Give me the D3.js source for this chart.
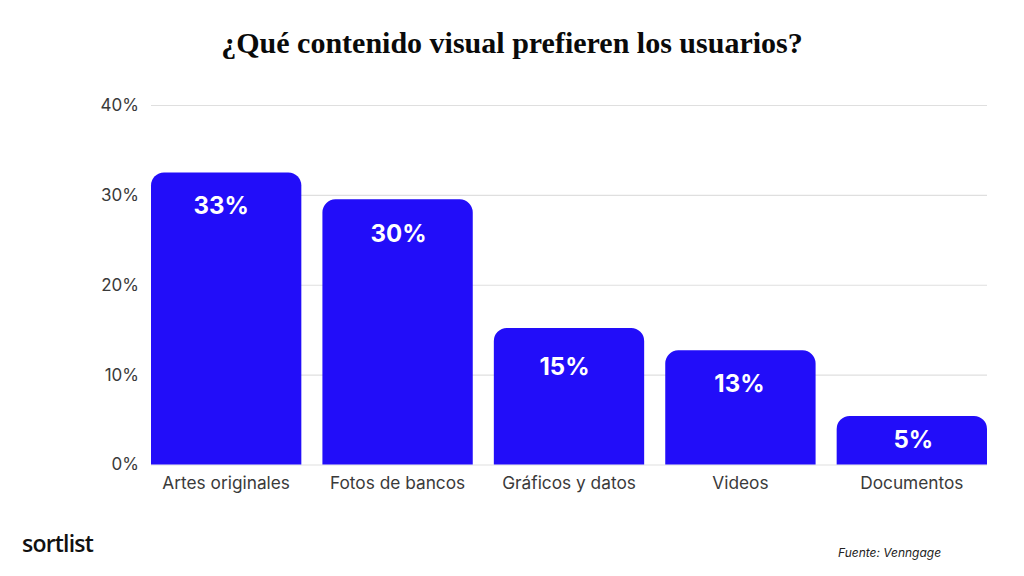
<!DOCTYPE html>
<html><head><meta charset="utf-8">
<script src="https://cdn.jsdelivr.net/npm/d3@7/dist/d3.min.js"></script>
<style>html,body{margin:0;padding:0;background:#fff}svg{display:block}</style>
</head><body><svg id="c" width="1024" height="576"></svg>
<script>
const categories = ["Artes originales","Fotos de bancos","Gráficos y datos","Videos","Documentos"];
const values = [32.5,29.5,15.2,12.7,5.4];
const valueLabels = ["33%","30%","15%","13%","5%"];
const ticks = [0,10,20,30,40];
const title = "¿Qué contenido visual prefieren los usuarios?";
const source = "Fuente: Venngage";
const brand = "sortlist";

const svg = d3.select("#c");
const x = d3.scaleBand().domain(categories).range([151,987]).paddingInner(0.123).paddingOuter(0);
const y = d3.scaleLinear().domain([0,40]).range([464.5,105]);
// hand placement of the labels inside the bars, relative to each bar's top centre
const labelDx = [-5,1,-4.5,-1,1.5];
const labelDy = [41.5,42.5,47.5,41.5,32.5];

svg.append("text").attr("x",512).attr("y",53).attr("text-anchor","middle")
  .attr("font-family","'Liberation Serif',serif").attr("font-weight",700).attr("font-size",30)
  .attr("fill","#0a0a0a").text(title);

const yAxis = d3.axisLeft(y).tickValues(ticks).tickFormat(d=>d+"%").tickSize(-836).tickPadding(12);
const gy = svg.append("g").attr("transform","translate(151,0)").call(yAxis);
gy.select(".domain").remove();
gy.selectAll(".tick line").attr("stroke","#dfdfdf").attr("stroke-width",1.2);
gy.selectAll(".tick text").attr("font-family","Inter,sans-serif").attr("font-size",17).attr("fill","#3a3a3a");

const bars = svg.append("g");
bars.selectAll("path").data(values).join("path")
  .attr("fill","#220df9")
  .attr("d",(d,i)=>{
    const l=x(categories[i]), r=l+x.bandwidth(), t=y(d), b=y(0), k=13;
    return `M${l},${b}V${t+k}A${k},${k} 0 0 1 ${l+k},${t}H${r-k}A${k},${k} 0 0 1 ${r},${t+k}V${b}Z`;
  });

svg.append("g").selectAll("text").data(valueLabels).join("text")
  .attr("x",(d,i)=>x(categories[i])+x.bandwidth()/2+labelDx[i])
  .attr("y",(d,i)=>y(values[i])+labelDy[i])
  .attr("text-anchor","middle").attr("font-family","Inter,sans-serif").attr("font-weight",700)
  .attr("font-size",24).attr("fill","#fff").text(d=>d);

const xAxis = d3.axisBottom(x).tickSize(0).tickPadding(12);
const gx = svg.append("g").attr("transform","translate(0,464.5)").call(xAxis);
gx.select(".domain").remove();
gx.selectAll(".tick text").attr("font-family","Inter,sans-serif").attr("font-size",17.3).attr("fill","#3a3a3a");

svg.append("text").attr("x",22).attr("y",552).attr("font-family","'Open Sans',sans-serif")
  .attr("font-weight",600).attr("font-size",23).attr("letter-spacing",-0.8).attr("fill","#111").text(brand);
svg.append("text").attr("x",838).attr("y",557).attr("font-family","Inter,sans-serif")
  .attr("font-style","italic").attr("font-size",12).attr("fill","#222").text(source);
</script></body></html>
